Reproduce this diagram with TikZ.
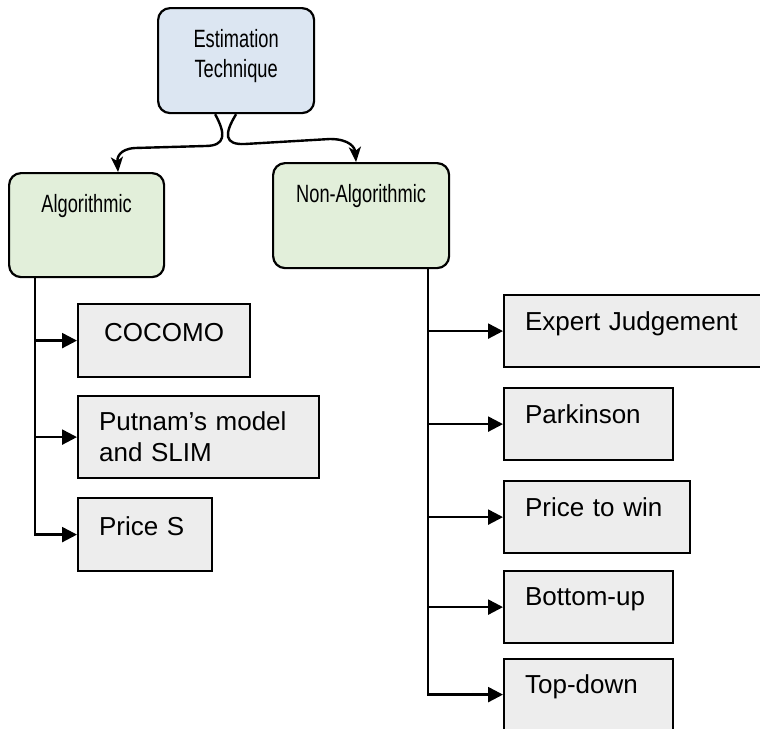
\documentclass[tikz,border=0pt]{standalone}
\usepackage{fontspec}
\setmainfont{Liberation Sans}
\newfontfamily\narrowfont[FakeStretch=0.73]{Liberation Sans}
\usepackage{tikz}
\usetikzlibrary{arrows.meta}
\definecolor{estblue}{HTML}{DCE6F2}
\definecolor{algreen}{HTML}{E2EFDA}
\definecolor{leafgray}{HTML}{EDEDED}

\begin{document}
\begin{tikzpicture}[x=1pt, y=-1pt, ->, >={Triangle[length=15pt,width=15pt]}, line width=2.4pt]
\tikzset{headbox/.style={draw, rounded corners=12pt, line width=2.2pt, inner sep=0pt, align=center, anchor=north west, text height=39.7pt, text depth=65.3pt, font=\narrowfont\fontsize{25}{29.5}\selectfont}}
\tikzset{leafbox/.style={draw, fill=leafgray, line width=2.2pt, inner xsep=21pt, inner ysep=0pt, align=left, anchor=north west, text height=35.5pt, text depth=36.5pt, font=\fontsize{26}{31}\selectfont}}
\useasboundingbox (0,0) rectangle (760,728);
\node[headbox, fill=estblue, text width=156pt] (1) at (157,7) {Estimation\\Technique};
\node[headbox, fill=algreen, text width=155pt, text depth=64.3pt] (2) at (8,172) {Algorithmic};
\node[headbox, fill=algreen, text width=176pt] (3) at (272,162) {Non-Algorithmic};
\node[leafbox, align=center, text width=130pt, text height=37pt, text depth=36pt] (4) at (77,303) {COCOMO};
\node[leafbox, text width=199pt, text height=34.5pt, text depth=47.5pt] (5) at (77,395) {Putnam’s model\\and SLIM};
\node[leafbox, text width=92pt, text height=37pt, text depth=36pt] (6) at (77,497) {Price S};
\node[leafbox, text width=228pt] (7) at (503,294) {Expert Judgement};
\node[leafbox, text width=127pt] (8) at (503,387) {Parkinson};
\node[leafbox, text width=144pt] (9) at (503,480) {Price to win};
\node[leafbox, text width=127pt, text height=34.5pt, text depth=37.5pt] (10) at (503,570) {Bottom-up};
\node[leafbox, text width=127pt, text height=34.5pt] (11) at (503,658) {Top-down};
\coordinate (a) at ([xshift=27pt]2.south west);
\coordinate (b) at ([xshift=156pt]3.south west);
\draw[-{Stealth[length=15pt,width=12pt,inset=4pt]}] ([xshift=-21pt]1.south) .. controls (226,134) and (226,146) .. (205,146) -- (135,148) .. controls (119,149) and (117,158) .. ([xshift=31.5pt]2.north);
\draw[-{Stealth[length=15pt,width=12pt,inset=4pt]}] (1.south) .. controls (224,134) and (224,145) .. (245,144) -- (330,139) .. controls (350,139) and (355,148) .. ([xshift=-5pt]3.north);
\draw (a) |- (6.west);
\foreach \n in {4,5} \draw (a |- \n.west) -- (\n.west);
\draw (b) |- (11.west);
\foreach \n in {7,...,10} \draw (b |- \n.west) -- (\n.west);
\end{tikzpicture}
\end{document}
